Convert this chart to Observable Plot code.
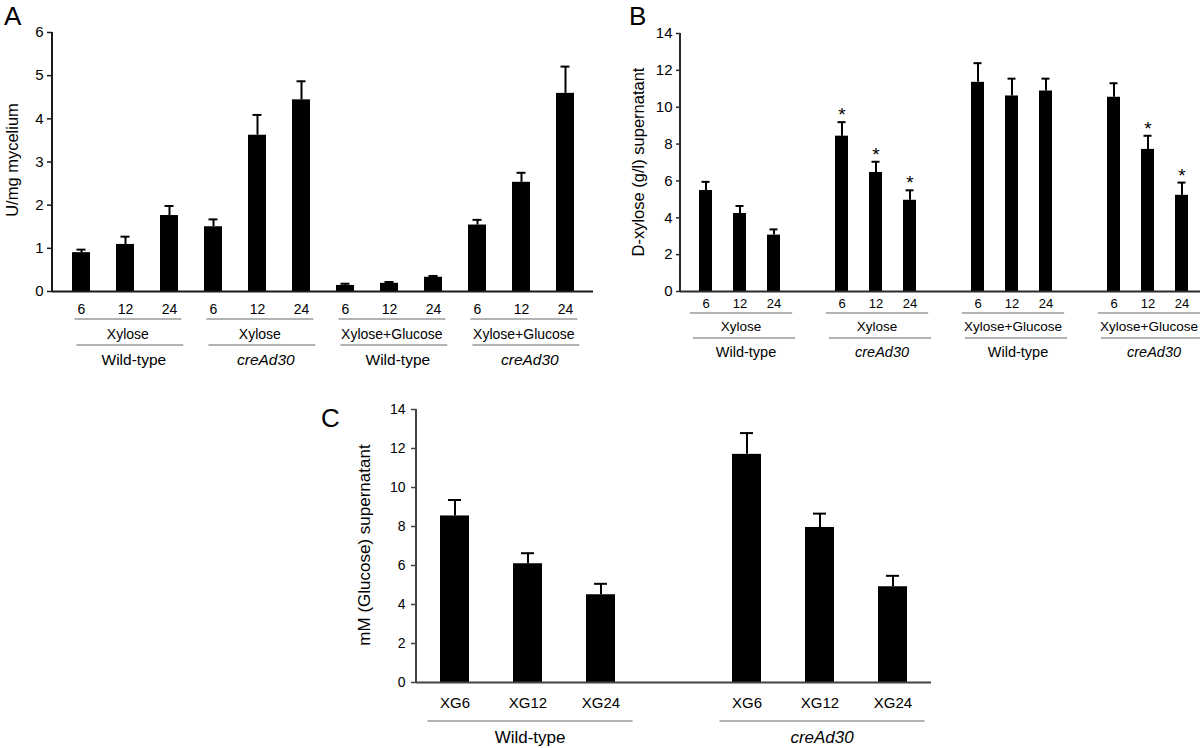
<!DOCTYPE html>
<html>
<head>
<meta charset="utf-8">
<script src="https://cdn.jsdelivr.net/npm/d3@7"></script>
<script src="https://cdn.jsdelivr.net/npm/@observablehq/plot@0.6"></script>
<style>
  html, body { margin: 0; padding: 0; background: #fff; overflow: hidden; }
  #root { position: relative; width: 1200px; height: 748px; overflow: hidden; background: #fff; }
  .panel { position: absolute; }
  .panel svg { max-width: none !important; }
</style>
</head>
<body>
<div id="root">
  <div class="panel" id="pA" style="left:0px;top:0px;width:600px"></div>
  <div class="panel" id="pB" style="left:600px;top:0px;width:606px"></div>
  <div class="panel" id="pC" style="left:300px;top:380px;width:640px"></div>
</div>
<script>
// ---------------- Data ----------------
const timesAB = ["6", "12", "24"];
const mediaAB = ["Xylose", "Xylose", "Xylose+Glucose", "Xylose+Glucose"];
const strainAB = ["Wild-type", "creAd30", "Wild-type", "creAd30"];

// Panel A: U/mg mycelium
const activityA    = [0.90, 1.09, 1.76,  1.50, 3.62, 4.44,  0.14, 0.19, 0.33,  1.54, 2.53, 4.59];
const activityErrA = [0.07, 0.18, 0.22,  0.17, 0.47, 0.43,  0.04, 0.03, 0.03,  0.12, 0.22, 0.62];

// Panel B: D-xylose (g/l) supernatant
const xyloseB    = [5.48, 4.23, 3.06,  8.43, 6.46, 4.95,  11.35, 10.61, 10.88,  10.54, 7.71, 5.22];
const xyloseErrB = [0.47, 0.41, 0.31,  0.76, 0.58, 0.54,   1.04,  0.94,  0.67,   0.76, 0.74, 0.69];
const significantB = [0, 0, 0,  1, 1, 1,  0, 0, 0,  0, 1, 1];

// Panel C: mM (Glucose) supernatant
const timesC = ["XG6", "XG12", "XG24"];
const strainC = ["Wild-type", "creAd30"];
const glucoseC    = [8.54, 6.09, 4.50,  11.70, 7.95, 4.91];
const glucoseErrC = [0.82, 0.54, 0.56,   1.09, 0.71, 0.56];

const ticksA = [0, 1, 2, 3, 4, 5, 6];
const ticksBC = [0, 2, 4, 6, 8, 10, 12, 14];

// ---------------- Helpers ----------------
const FONT = '"Liberation Sans", Arial, Helvetica, sans-serif';

function makeRows(nGroups, times, values, errs, sig) {
  const rows = [];
  for (let g = 0; g < nGroups; g++) {
    times.forEach((t, j) => {
      const i = g * times.length + j;
      rows.push({key: `g${g}-${t}`, group: g, time: t, value: values[i], top: values[i] + errs[i], sig: sig ? sig[i] === 1 : false});
    });
  }
  return rows;
}

function bandDomain(rows, nGroups, withGaps) {
  const d = [];
  for (let g = 0; g < nGroups; g++) {
    if (g > 0 && withGaps) d.push(`gap${g}`);
    rows.filter(r => r.group === g).forEach(r => d.push(r.key));
  }
  return d;
}

function drawPanel(cfg) {
  const timeOf = new Map(cfg.rows.map(r => [r.key, r.time]));
  const marks = [
    Plot.barY(cfg.rows, {x: "key", y: "value", fill: "#000"}),
    Plot.ruleX(cfg.rows, {x: "key", y1: "value", y2: "top", stroke: "#000", strokeWidth: 2}),
    Plot.tickY(cfg.rows, {x: "key", y: "top", stroke: "#000", strokeWidth: 2, insetLeft: cfg.capInset, insetRight: cfg.capInset}),
    Plot.ruleY([0], {stroke: cfg.axisColor, strokeWidth: 2}),
    Plot.axisY({ticks: cfg.yTicks, tickSize: cfg.yTickSize, tickPadding: cfg.yTickPadding, fontSize: cfg.yFont,
                tickFormat: d => String(d), label: null, stroke: cfg.axisColor, strokeWidth: 1.5}),
    Plot.axisX({ticks: cfg.rows.map(r => r.key), tickSize: 0, tickPadding: cfg.xTickPadding, fontSize: cfg.xFont,
                tickFormat: k => timeOf.get(k), label: null})
  ];
  if (cfg.stars) {
    marks.push(Plot.text(cfg.rows.filter(r => r.sig), {x: "key", y: "top", text: () => "*", fontSize: 19,
      lineAnchor: "bottom", dy: -1, fill: "#000"}));
  }
  const plot = Plot.plot({
    width: cfg.width, height: cfg.height,
    marginLeft: cfg.ml, marginRight: cfg.mr, marginTop: cfg.mt, marginBottom: cfg.mb,
    style: {fontFamily: FONT, color: "#000", background: "transparent", overflow: "visible", maxWidth: "none"},
    x: {type: "band", domain: cfg.domain, paddingInner: cfg.pi, paddingOuter: cfg.po, axis: null},
    y: {domain: cfg.yDomain, axis: null},
    marks
  });

  const svg = d3.select(plot);
  const x = plot.scale("x"), y = plot.scale("y");
  const bw = x.bandwidth, step = x.step;
  const cx = k => x.apply(k) + bw / 2;
  const y0 = y.apply(0);

  // vertical y-axis line
  svg.append("line")
    .attr("x1", x.range[0]).attr("x2", x.range[0])
    .attr("y1", y.apply(cfg.yDomain[1])).attr("y2", y0 + 1)
    .attr("stroke", cfg.axisColor).attr("stroke-width", 2);

  // hierarchical group labels
  const nGroups = d3.max(cfg.rows, r => r.group) + 1;
  cfg.levels.forEach(lv => {
    for (let g = 0; g < nGroups; g++) {
      const gr = cfg.rows.filter(r => r.group === g);
      const xa = cx(gr[0].key) - cfg.extL * step + (lv.shift || 0);
      const xb = cx(gr[gr.length - 1].key) + cfg.extR * step + (lv.shift || 0);
      svg.append("line")
        .attr("x1", xa).attr("x2", xb)
        .attr("y1", y0 + lv.lineDy).attr("y2", y0 + lv.lineDy)
        .attr("stroke", "#9a9a9a").attr("stroke-width", 1.6);
      const label = lv.labels[g];
      svg.append("text")
        .attr("x", (xa + xb) / 2 + (lv.textShift || 0)).attr("y", y0 + lv.textDy)
        .attr("dy", "0.35em")
        .attr("text-anchor", "middle")
        .attr("font-family", FONT)
        .attr("font-size", lv.size)
        .attr("font-style", label === "creAd30" ? "italic" : "normal")
        .attr("fill", "#000")
        .text(label);
    }
  });

  // panel letter
  svg.append("text")
    .attr("x", cfg.letter.x).attr("y", cfg.letter.y)
    .attr("text-anchor", "start")
    .attr("font-family", FONT).attr("font-size", 26).attr("fill", "#000")
    .text(cfg.letter.text);

  // y-axis title
  svg.append("text")
    .attr("transform", `translate(${cfg.title.x},${cfg.title.y}) rotate(-90)`)
    .attr("dy", "0.35em")
    .attr("text-anchor", "middle")
    .attr("font-family", FONT).attr("font-size", cfg.title.size).attr("fill", "#000")
    .text(cfg.title.text);

  document.getElementById(cfg.container).appendChild(plot);
}

// ---------------- Panel A ----------------
const rowsA = makeRows(4, timesAB, activityA, activityErrA);
drawPanel({
  container: "pA", rows: rowsA, domain: bandDomain(rowsA, 4, false),
  width: 600, height: 380, ml: 52, mr: 7, mt: 32, mb: 89,
  pi: 0.6, po: 0.336, yDomain: [0, 6], yTicks: ticksA,
  yTickSize: 5, yTickPadding: 4, yFont: 15, xTickPadding: 13, xFont: 14,
  capInset: 4.5, axisColor: "#1a1a1a",
  extL: 0.15, extR: 0.28,
  levels: [
    {labels: mediaAB, lineDy: 28, textDy: 43, size: 14},
    {labels: strainAB, lineDy: 54, textDy: 69, size: 15.5, shift: 2, textShift: 4}
  ],
  letter: {text: "A", x: 4, y: 25},
  title: {text: "U/mg mycelium", x: 12, y: 160, size: 16.5}
});

// ---------------- Panel B ----------------
const rowsB = makeRows(4, timesAB, xyloseB, xyloseErrB, significantB);
drawPanel({
  container: "pB", rows: rowsB, domain: bandDomain(rowsB, 4, true),
  width: 606, height: 380, ml: 80, mr: 0, mt: 33, mb: 89,
  pi: 0.62, po: 0.45, yDomain: [0, 14], yTicks: ticksBC,
  yTickSize: 4, yTickPadding: 4, yFont: 15, xTickPadding: 7, xFont: 13,
  capInset: 2.5, axisColor: "#2a2a2a", stars: true,
  extL: 0.46, extR: 0.55,
  levels: [
    {labels: mediaAB, lineDy: 22, textDy: 35, size: 13.5},
    {labels: strainAB, lineDy: 47, textDy: 61, size: 14.5, shift: 3, textShift: 2}
  ],
  letter: {text: "B", x: 29, y: 25},
  title: {text: "D-xylose (g/l) supernatant", x: 38, y: 162, size: 16.5}
});

// ---------------- Panel C ----------------
const rowsC = makeRows(2, timesC, glucoseC, glucoseErrC);
drawPanel({
  container: "pC", rows: rowsC, domain: bandDomain(rowsC, 2, true),
  width: 640, height: 368, ml: 116, mr: 9, mt: 29, mb: 66,
  pi: 0.6, po: 0.3, yDomain: [0, 14], yTicks: ticksBC,
  yTickSize: 5, yTickPadding: 6, yFont: 14, xTickPadding: 15, xFont: 15,
  capInset: 8, axisColor: "#444",
  extL: 0.37, extR: 0.44,
  levels: [
    {labels: strainC, lineDy: 39, textDy: 55, size: 17}
  ],
  letter: {text: "C", x: 21, y: 47},
  title: {text: "mM (Glucose) supernatant", x: 64, y: 165, size: 17}
});
</script>
</body>
</html>
